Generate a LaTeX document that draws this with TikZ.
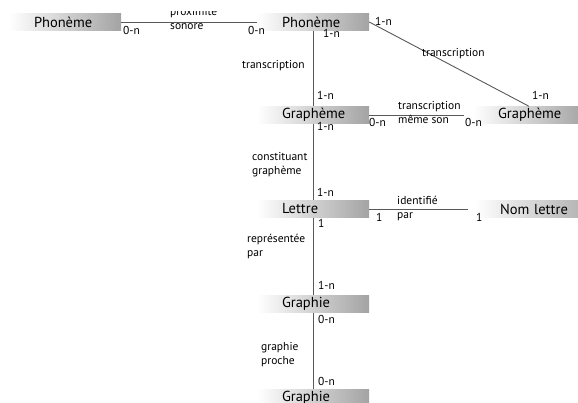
\documentclass[tikz,border=0pt]{standalone}
\usepackage{fontspec}
\setmainfont{PT Sans}
\usepackage{tikz}

\tikzset{
  entity/.style={left color=white, right color=black!36,
    minimum height=17pt, text width=62pt, inner xsep=25pt, inner ysep=0pt,
    align=left, font=\fontsize{14.5}{16}\selectfont},
  card/.style={anchor=base west, inner sep=0pt, align=left,
    font=\fontsize{11.5}{14}\selectfont},
  link/.style={draw=black!65, line width=0.9pt}
}

\begin{document}
\begin{tikzpicture}[x=1pt,y=-1pt]
        \useasboundingbox (0,0) rectangle (578,403);
        \clip (0,12) rectangle (578,403);
        \node[entity] (phon1) at (65,22) {Phonème};
        \node[entity] (phon2) at (313,22) {Phonème};
        \node[entity] (graph1) at (313,115) {Graphème};
        \node[entity] (graph2) at (529,115) {Graphème};
        \node[entity] (lettre) at (313,209) {Lettre};
        \node[entity, text width=80pt] (nom) at (540,209) {Nom lettre};
        \node[entity] (graphie1) at (313,304) {Graphie};
        \node[entity] (graphie2) at (313,398) {Graphie};

        \draw[link] (phon1) -- (phon2);
        \draw[link] (phon2) -- (graph1);
        \draw[link] (phon2.east) -- (graph2.north);
        \draw[link, shorten >=9pt] (graph1) -- (graph2);
        \draw[link] (graph1) -- (lettre);
        \draw[link, shorten >=7pt] (lettre) -- (nom);
        \draw[link] (lettre) -- (graphie1);
        \draw[link] (graphie1) -- (graphie2);

        \node[card] (proxi) at (170,30) {proximité\\sonore};
        \node[card] (c1) at (123,35) {0-n};
        \node[card] (c2) at (248,35) {0-n};
        \node[card] (c3) at (375,26) {1-n};
        \node[card] (c4) at (323,38) {1-n};
        \node[card] (transV) at (242,69) {transcription};
        \node[card] (transD) at (422,57) {transcription};
        \node[card] (c5) at (532,100) {1-n};
        \node[card] (c6) at (317,100) {1-n};
        \node[card] (transH) at (398,124) {transcription\\même son};
        \node[card] (c7) at (369,127) {0-n};
        \node[card] (c8) at (465,127) {0-n};
        \node[card] (c9) at (317,131) {1-n};
        \node[card] (constit) at (252,175) {constituant\\graphème};
        \node[card] (c10) at (317,197) {1-n};
        \node[card] (ident) at (397,219) {identifié\\par};
        \node[card] (c11) at (376,222) {1};
        \node[card] (c12) at (476,222) {1};
        \node[card] (c13) at (318,228) {1};
        \node[card] (repr) at (247,257) {représentée\\par};
        \node[card] (c14) at (318,290) {1-n};
        \node[card] (c15) at (318,323) {0-n};
        \node[card] (proche) at (261,364) {graphie\\proche};
        \node[card] (c16) at (318,385) {0-n};
\end{tikzpicture}
\end{document}
